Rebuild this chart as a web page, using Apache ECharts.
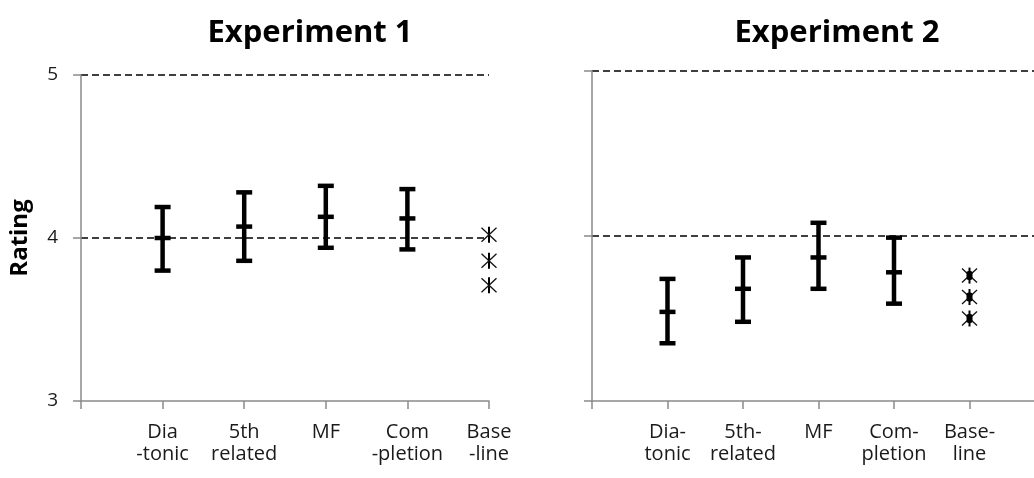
<!DOCTYPE html>
<html>
<head>
<meta charset="utf-8">
<script src="https://cdn.jsdelivr.net/npm/echarts@6/dist/echarts.min.js"></script>
<style>html,body{margin:0;padding:0;background:#fff;}#c{width:1034px;height:478px;}</style>
</head>
<body>
<div id="c"></div>
<script>
// ---- data ----
const cats1 = ['Dia\n-tonic', '5th\nrelated', 'MF', 'Com\n-pletion', 'Base\n-line'];
const cats2 = ['Dia-\ntonic', '5th-\nrelated', 'MF', 'Com-\npletion', 'Base-\nline'];
const exp1Mean = [4.00, 4.07, 4.13, 4.12];
const exp1Low  = [3.80, 3.86, 3.94, 3.93];
const exp1High = [4.19, 4.28, 4.32, 4.30];
const exp1Baseline = [4.02, 3.86, 3.71];
const exp2Mean = [3.54, 3.68, 3.87, 3.78];
const exp2Low  = [3.35, 3.48, 3.68, 3.59];
const exp2High = [3.74, 3.87, 4.08, 3.99];
const exp2Baseline = [3.76, 3.63, 3.50];
const yTicks = [3, 4, 5];

const FONT = '"Open Sans", "Noto Sans", sans-serif';

function errData(mean, low, high) {
  return mean.map((m, i) => [i + 1, m, low[i], high[i]]);
}
function starData(vals) {
  return vals.map(v => [cats1.length, v]);
}

function errRender(params, api) {
  const x = api.value(0);
  const pm = api.coord([x, api.value(1)]);
  const pl = api.coord([x, api.value(2)]);
  const ph = api.coord([x, api.value(3)]);
  const hw = 8;
  const st = { stroke: '#000', lineWidth: 4.5, fill: null };
  return {
    type: 'group',
    children: [
      { type: 'line', shape: { x1: pl[0], y1: pl[1], x2: ph[0], y2: ph[1] }, style: st },
      { type: 'line', shape: { x1: ph[0] - hw, y1: ph[1], x2: ph[0] + hw, y2: ph[1] }, style: st },
      { type: 'line', shape: { x1: pl[0] - hw, y1: pl[1], x2: pl[0] + hw, y2: pl[1] }, style: st },
      { type: 'line', shape: { x1: pm[0] - hw, y1: pm[1], x2: pm[0] + hw, y2: pm[1] }, style: st }
    ]
  };
}

function makeStarRender(filled) {
  return function (params, api) {
    const p = api.coord([api.value(0), api.value(1)]);
    const r = 8, dx = 7.5, dy = 7;
    const thin = { stroke: '#111', lineWidth: 1.3, fill: null };
    const children = [
      { type: 'line', shape: { x1: p[0], y1: p[1] - r, x2: p[0], y2: p[1] + r }, style: { stroke: '#000', lineWidth: 2 } },
      { type: 'line', shape: { x1: p[0] - dx, y1: p[1] - dy, x2: p[0] + dx, y2: p[1] + dy }, style: thin },
      { type: 'line', shape: { x1: p[0] - dx, y1: p[1] + dy, x2: p[0] + dx, y2: p[1] - dy }, style: thin }
    ];
    if (filled) {
      children.push({ type: 'rect', shape: { x: p[0] - 3, y: p[1] - 4.5, width: 6, height: 9, r: 2 }, style: { fill: '#000' } });
    }
    return { type: 'group', children };
  };
}

const axisGray = '#8a8a8a';

function xAxisCfg(gridIndex, cats, max) {
  return {
    type: 'value', gridIndex, min: 0, max, interval: 1,
    axisLine: { show: true, lineStyle: { color: axisGray, width: 1.5 } },
    axisTick: { show: true, length: 8, lineStyle: { color: axisGray, width: 1.5 } },
    splitLine: { show: false },
    axisLabel: {
      show: true, margin: 20, fontFamily: FONT, fontSize: 20, lineHeight: 22, color: '#1a1a1a',
      align: 'center', verticalAlign: 'top',
      formatter: v => (v >= 1 && v <= cats.length) ? cats[v - 1] : ''
    }
  };
}
function yAxisCfg(gridIndex, showLabels) {
  return {
    type: 'value', gridIndex, min: yTicks[0], max: yTicks[yTicks.length - 1], interval: 1,
    name: showLabels ? 'Rating' : '', nameLocation: 'middle', nameGap: 49, nameRotate: 90,
    nameTextStyle: { fontFamily: FONT, fontSize: 24, fontWeight: 'bold', color: '#000' },
    axisLine: { show: true, lineStyle: { color: axisGray, width: 1.5 } },
    axisTick: { show: true, length: 8, lineStyle: { color: axisGray, width: 1.5 } },
    splitLine: { show: true, showMinLine: false, lineStyle: { color: '#000', width: 1.5, type: [7, 4] } },
    axisLabel: { show: showLabels, margin: 23, fontFamily: FONT, fontSize: 19, color: '#1a1a1a' }
  };
}

const chart = echarts.init(document.getElementById('c'), null, { renderer: 'canvas' });
chart.setOption({
  backgroundColor: '#fff',
  animation: false,
  title: [
    { text: 'Experiment 1', left: 305, top: 13, textAlign: 'center',
      textStyle: { fontFamily: FONT, fontSize: 31, fontWeight: 'bold', color: '#000' } },
    { text: 'Experiment 2', left: 832, top: 13, textAlign: 'center',
      textStyle: { fontFamily: FONT, fontSize: 31, fontWeight: 'bold', color: '#000' } }
  ],
  grid: [
    { left: 81, width: 408, top: 75, bottom: 77, outerBoundsMode: 'none', containLabel: false },
    { left: 592, width: 453, top: 71, bottom: 77, outerBoundsMode: 'none', containLabel: false }
  ],
  xAxis: [xAxisCfg(0, cats1, 5), xAxisCfg(1, cats2, 6)],
  yAxis: [yAxisCfg(0, true), yAxisCfg(1, false)],
  series: [
    { type: 'custom', xAxisIndex: 0, yAxisIndex: 0, renderItem: errRender, data: errData(exp1Mean, exp1Low, exp1High), z: 5 },
    { type: 'custom', xAxisIndex: 0, yAxisIndex: 0, renderItem: makeStarRender(false), data: starData(exp1Baseline), z: 5 },
    { type: 'custom', xAxisIndex: 1, yAxisIndex: 1, renderItem: errRender, data: errData(exp2Mean, exp2Low, exp2High), z: 5 },
    { type: 'custom', xAxisIndex: 1, yAxisIndex: 1, renderItem: makeStarRender(true), data: starData(exp2Baseline), z: 5 }
  ]
});
</script>
</body>
</html>
